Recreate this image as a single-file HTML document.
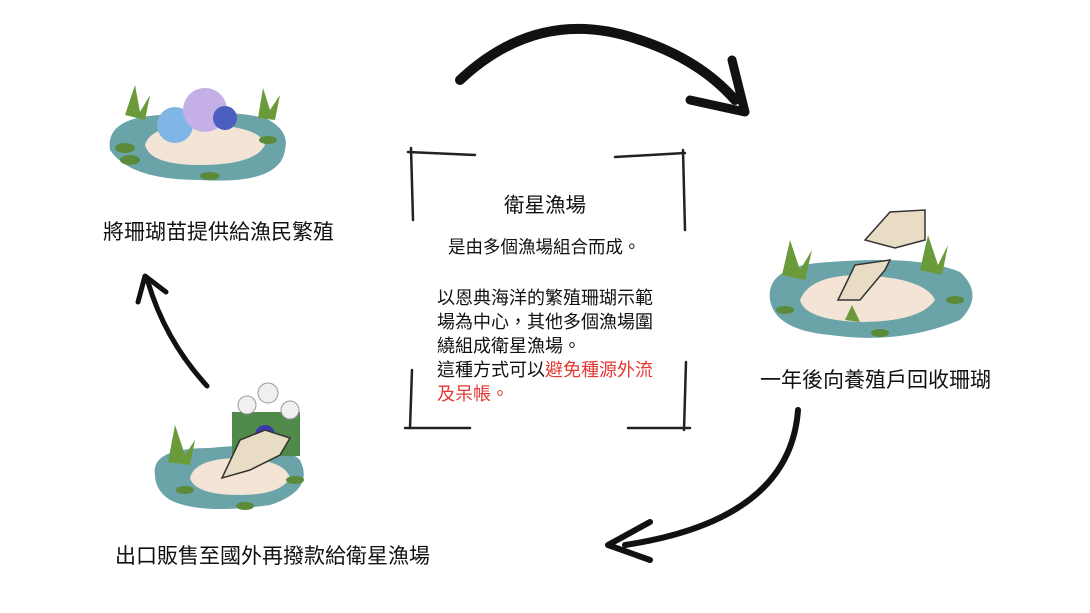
<!DOCTYPE html>
<html><head><meta charset="utf-8"><style>
body{margin:0;width:1090px;height:613px;background:#fff;overflow:hidden;position:relative;font-family:"Liberation Sans","Noto Sans CJK TC",sans-serif;color:#111}
.t{position:absolute;white-space:nowrap}
</style></head><body>
<svg width="1090" height="613" style="position:absolute;left:0;top:0">
<g fill="none" stroke="#111" stroke-linecap="round">
 <path d="M460 80 Q540 5 640 40 Q700 60 735 100" stroke-width="10"/>
 <path d="M690 100 L745 112 L732 60" stroke-width="9" stroke-linejoin="round"/>
 <path d="M798 410 Q790 520 625 545" stroke-width="6"/>
 <path d="M650 522 L608 545 L650 560" stroke-width="6" stroke-linejoin="round"/>
 <path d="M207 386 Q165 340 148 282" stroke-width="5"/>
 <path d="M138 302 L145 276 L166 292" stroke-width="5" stroke-linejoin="round"/>
 <g stroke="#222" stroke-width="2.5">
  <path d="M408 152 L475 155"/><path d="M411 148 L413 220"/>
  <path d="M615 157 L685 153"/><path d="M683 150 L685 230"/>
  <path d="M412 370 L410 428"/><path d="M405 428 L470 428"/>
  <path d="M686 362 L684 430"/><path d="M628 428 L690 428"/>
 </g>
</g>
<g>
 <path d="M110 150 Q105 118 160 115 Q220 108 265 118 Q290 130 285 150 Q280 185 200 180 Q130 180 110 150Z" fill="#6aa4a8"/>
 <path d="M145 145 Q150 125 200 125 Q260 125 265 145 Q255 165 200 165 Q150 165 145 145Z" fill="#f3e4d6"/>
 <g fill="#7fb6e6"><circle cx="175" cy="125" r="18"/></g>
 <g fill="#c4b0e6"><circle cx="205" cy="110" r="22"/></g>
 <g fill="#4a5fc0"><circle cx="225" cy="118" r="12"/></g>
 <g fill="#6a9a3a"><path d="M125 115 L135 85 L140 112 L150 95 L145 120Z"/><path d="M258 118 L263 88 L270 110 L280 95 L275 120Z"/></g>
 <g fill="#5b8a3a"><ellipse cx="125" cy="148" rx="10" ry="5"/><ellipse cx="130" cy="160" rx="10" ry="5"/><ellipse cx="210" cy="176" rx="10" ry="4"/><ellipse cx="268" cy="140" rx="9" ry="4"/></g>
</g>
<g>
 <path d="M770 300 Q765 265 830 262 Q920 255 960 272 Q985 295 960 320 Q900 345 830 335 Q775 330 770 300Z" fill="#6aa4a8"/>
 <path d="M800 300 Q810 275 860 275 Q925 278 935 300 Q920 322 860 322 Q805 320 800 300Z" fill="#f3e4d6"/>
 <path d="M865 240 L890 212 L925 210 L925 240 L895 248Z" fill="#e8dcc4" stroke="#333" stroke-width="1.5"/>
 <path d="M838 300 L855 265 L890 260 L885 270 L860 300Z" fill="#e8dcc4" stroke="#333" stroke-width="1.5"/>
 <g fill="#6a9a3a"><path d="M782 275 L790 240 L800 270 L812 250 L805 280Z"/><path d="M920 270 L928 235 L938 265 L948 245 L942 275Z"/><path d="M845 320 L852 305 L860 322Z"/></g>
 <g fill="#5b8a3a"><ellipse cx="785" cy="310" rx="9" ry="4"/><ellipse cx="880" cy="333" rx="9" ry="4"/><ellipse cx="955" cy="300" rx="9" ry="4"/></g>
</g>
<g>
 <path d="M155 475 Q150 448 210 448 Q280 440 300 460 Q315 490 270 505 Q200 515 170 500 Q155 490 155 475Z" fill="#6aa4a8"/>
 <path d="M190 478 Q195 458 240 458 Q285 460 290 478 Q280 495 240 495 Q195 495 190 478Z" fill="#f3e4d6"/>
 <rect x="232" y="412" width="68" height="44" fill="#4f8a4a"/>
 <circle cx="247" cy="405" r="9" fill="#f0f0f0" stroke="#999"/><circle cx="268" cy="393" r="10" fill="#f0f0f0" stroke="#999"/><circle cx="290" cy="410" r="9" fill="#f0f0f0" stroke="#999"/>
 <circle cx="265" cy="435" r="10" fill="#3a3ab0"/>
 <path d="M222 478 L240 440 L265 430 L290 438 L280 455 L250 470Z" fill="#e8dcc4" stroke="#333" stroke-width="1.5"/>
 <g fill="#6a9a3a"><path d="M168 462 L175 425 L185 455 L195 440 L190 465Z"/></g>
 <g fill="#5b8a3a"><ellipse cx="185" cy="490" rx="9" ry="4"/><ellipse cx="245" cy="506" rx="9" ry="4"/><ellipse cx="295" cy="480" rx="9" ry="4"/></g>
</g>
</svg>
<div class="t" style="left:103px;top:216px;font-size:21px">將珊瑚苗提供給漁民繁殖</div>
<div class="t" style="left:760px;top:364px;font-size:21px">一年後向養殖戶回收珊瑚</div>
<div class="t" style="left:115px;top:540px;font-size:21px">出口販售至國外再撥款給衛星漁場</div>
<div class="t" style="left:504px;top:188px;font-size:20.5px">衛星漁場</div>
<div class="t" style="left:448px;top:234px;font-size:17.5px">是由多個漁場組合而成。</div>
<div class="t" style="left:437px;top:286px;font-size:18px;line-height:24px">以恩典海洋的繁殖珊瑚示範<br>場為中心，其他多個漁場圍<br>繞組成衛星漁場。<br>這種方式可以<span style="color:#e53935">避免種源外流</span><br><span style="color:#e53935">及呆帳。</span></div>
</body></html>
